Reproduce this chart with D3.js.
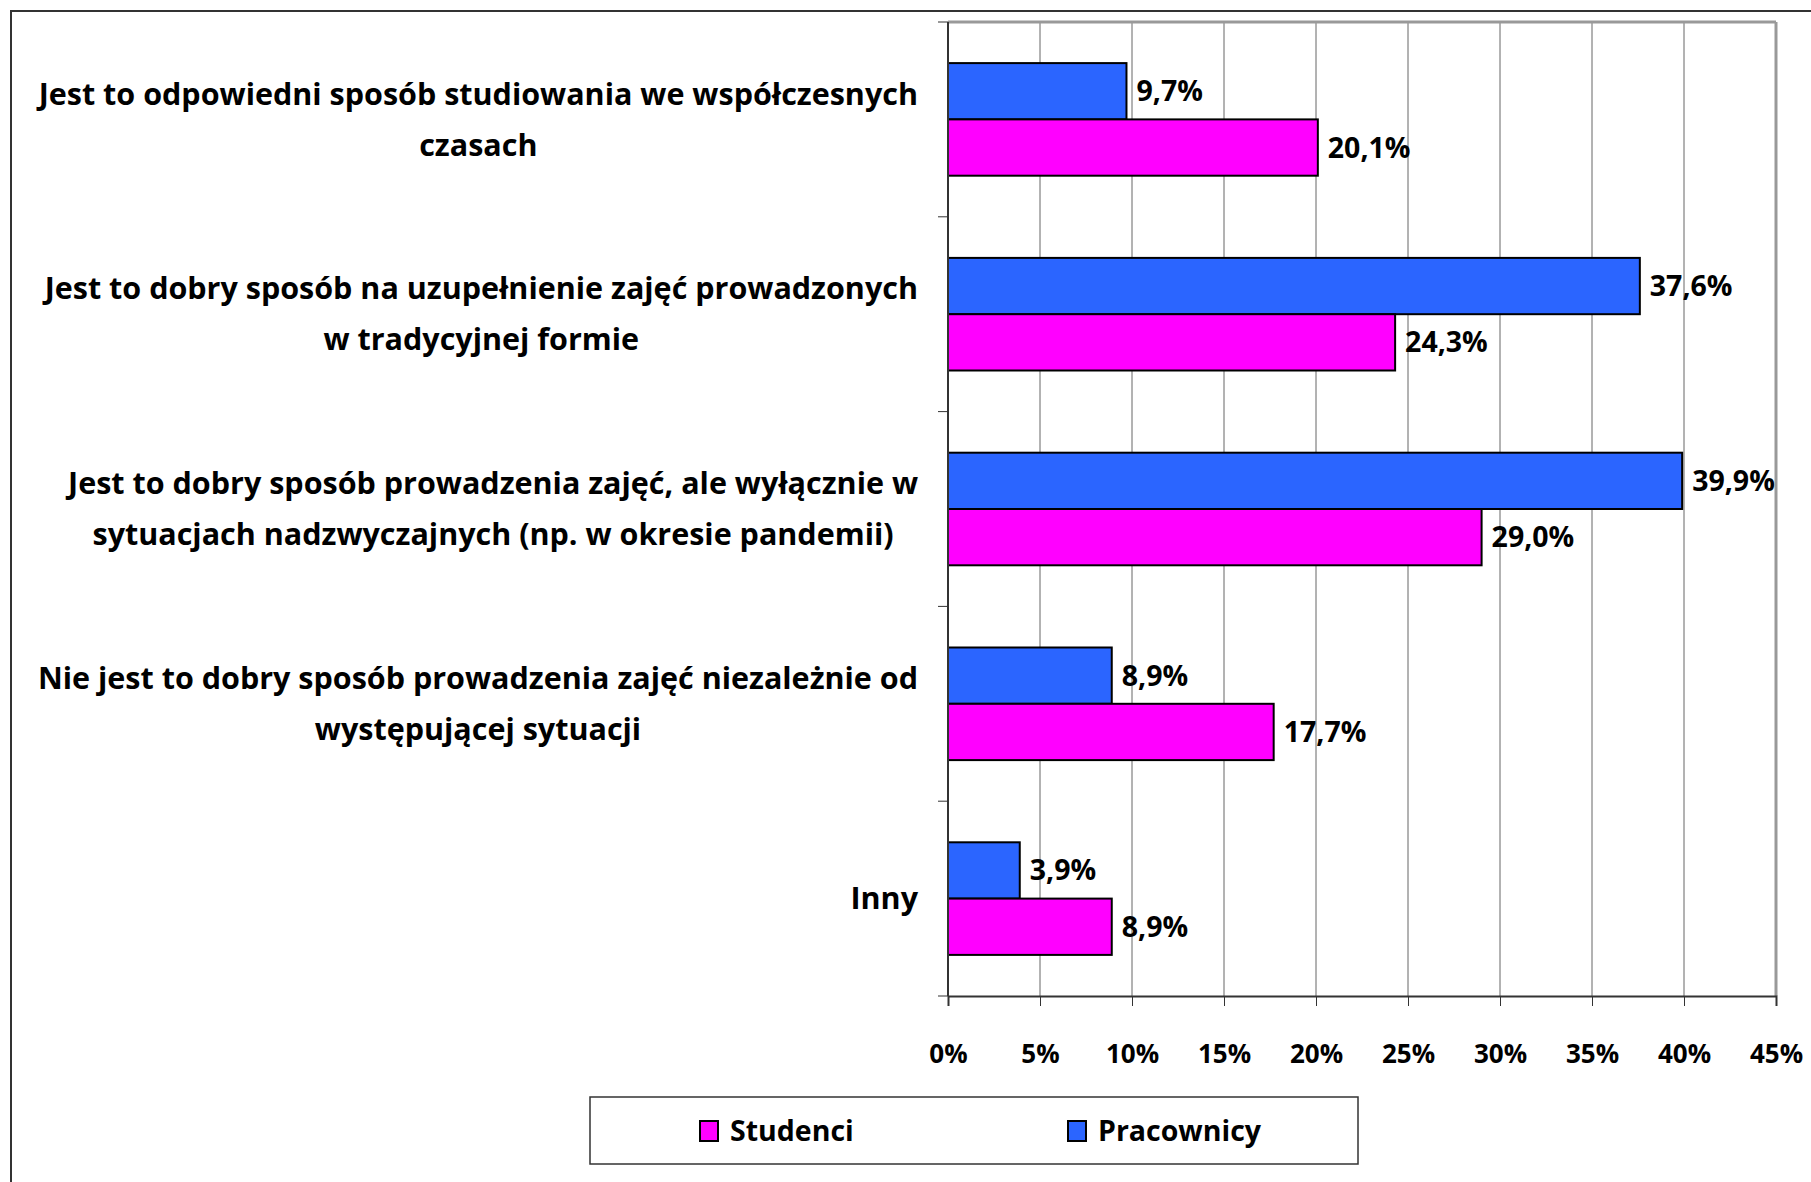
<!DOCTYPE html>
<html>
<head>
<meta charset="utf-8">
<script src="https://cdn.jsdelivr.net/npm/d3@7"></script>
<style>
  body { margin: 0; background: #fff; }
  text { font-family: "Open Sans", Lato, sans-serif; font-weight: bold; fill: #000; }
</style>
</head>
<body>
<div class="canvas"></div>
<script>
// category labels, already split into lines like the original
const categories = [
  ['Jest to odpowiedni sposób studiowania we współczesnych', 'czasach'],
  ['Jest to dobry sposób na uzupełnienie zajęć prowadzonych', 'w tradycyjnej formie'],
  ['Jest to dobry sposób prowadzenia zajęć, ale wyłącznie w', 'sytuacjach nadzwyczajnych (np. w okresie pandemii)'],
  ['Nie jest to dobry sposób prowadzenia zajęć niezależnie od', 'występującej sytuacji'],
  ['Inny']
];
const seriesNames = ['Pracownicy', 'Studenci'];
const pracownicy = [9.7, 37.6, 39.9, 8.9, 3.9];
const studenci = [20.1, 24.3, 29.0, 17.7, 8.9];
const xTicks = [0, 5, 10, 15, 20, 25, 30, 35, 40, 45];

const colors = { Pracownicy: '#2b65ff', Studenci: '#ff00ff' };

const W = 1811, H = 1182;
const plot = { left: 948, right: 1776, top: 22, bottom: 996 };

const svg = d3.select('.canvas').append('svg')
    .attr('width', W)
    .attr('height', H);

// outer frame
svg.append('rect')
    .attr('x', 11).attr('y', 11)
    .attr('width', W).attr('height', H)
    .attr('fill', 'none')
    .attr('stroke', '#333')
    .attr('stroke-width', 2);

const x = d3.scaleLinear().domain([0, 45]).range([plot.left, plot.right]);
const y = d3.scaleBand().domain(d3.range(categories.length)).range([plot.top, plot.bottom]);
const inner = d3.scaleBand().domain(seriesNames).range([0, y.bandwidth()]).paddingInner(0).paddingOuter(0.73);

// grid lines
svg.append('g').selectAll('line')
    .data(xTicks.slice(1))
    .join('line')
    .attr('x1', d => x(d)).attr('x2', d => x(d))
    .attr('y1', plot.top).attr('y2', plot.bottom)
    .attr('stroke', d => d === 45 ? '#999' : '#666')
    .attr('stroke-width', d => d === 45 ? 3 : 1);

// top border of plot area
svg.append('line')
    .attr('x1', plot.left).attr('x2', plot.right)
    .attr('y1', plot.top).attr('y2', plot.top)
    .attr('stroke', '#999').attr('stroke-width', 3);

// bars
const rows = categories.map((c, i) => ({ i, Pracownicy: pracownicy[i], Studenci: studenci[i] }));
const groups = svg.append('g').selectAll('g')
    .data(rows)
    .join('g')
    .attr('transform', d => `translate(0, ${y(d.i)})`);

groups.selectAll('rect')
    .data(d => seriesNames.map(s => ({ s, v: d[s] })))
    .join('rect')
    .attr('x', x(0))
    .attr('y', d => inner(d.s))
    .attr('width', d => x(d.v) - x(0))
    .attr('height', inner.bandwidth())
    .attr('fill', d => colors[d.s])
    .attr('stroke', '#000')
    .attr('stroke-width', 2);

groups.selectAll('text')
    .data(d => seriesNames.map(s => ({ s, v: d[s] })))
    .join('text')
    .attr('x', d => x(d.v) + 10)
    .attr('y', d => inner(d.s) + inner.bandwidth() / 2)
    .attr('dy', '0.35em')
    .style('font-size', '28.5px')
    .text(d => d.v.toFixed(1).replace('.', ',') + '%');

// x axis
const xAxis = svg.append('g')
    .attr('transform', `translate(0, ${plot.bottom})`)
    .call(d3.axisBottom(x).tickValues(xTicks).tickSize(10).tickPadding(39).tickFormat(d => d + '%'));
xAxis.select('.domain').attr('stroke', '#333').attr('stroke-width', 2);
xAxis.selectAll('.tick line').attr('stroke', '#333');
xAxis.selectAll('.tick text')
    .style('font-family', '"Open Sans", Lato, sans-serif')
    .style('font-weight', 'bold')
    .style('font-size', '26px');

// y axis (ticks at band boundaries)
svg.append('line')
    .attr('x1', plot.left).attr('x2', plot.left)
    .attr('y1', plot.top).attr('y2', plot.bottom)
    .attr('stroke', '#333').attr('stroke-width', 2);
svg.append('g').selectAll('line')
    .data(d3.range(categories.length + 1))
    .join('line')
    .attr('x1', plot.left - 10).attr('x2', plot.left)
    .attr('y1', d => plot.top + d * y.step())
    .attr('y2', d => plot.top + d * y.step())
    .attr('stroke', '#333');

// category labels: block right aligned, lines centred inside it
const labelRight = 918, lineGap = 51;
categories.forEach((lines, i) => {
  const g = svg.append('g');
  const cy = y(i) + y.bandwidth() / 2;
  const texts = lines.map((t, k) => g.append('text')
      .attr('y', cy + (k - (lines.length - 1) / 2) * lineGap)
      .attr('dy', '0.35em')
      .attr('text-anchor', 'middle')
      .style('font-size', '30.5px')
      .text(t));
  const maxW = d3.max(texts, t => t.node().getComputedTextLength());
  texts.forEach(t => t.attr('x', labelRight - maxW / 2));
});

// legend
const legend = svg.append('g');
legend.append('rect')
    .attr('x', 590).attr('y', 1097)
    .attr('width', 768).attr('height', 67)
    .attr('fill', '#fff').attr('stroke', '#333').attr('stroke-width', 1.5);
const legendItems = [{ s: 'Studenci', x: 700 }, { s: 'Pracownicy', x: 1068 }];
legendItems.forEach(d => {
  legend.append('rect')
      .attr('x', d.x).attr('y', 1121)
      .attr('width', 18).attr('height', 20)
      .attr('fill', colors[d.s]).attr('stroke', '#000').attr('stroke-width', 2);
  legend.append('text')
      .attr('x', d.x + 30).attr('y', 1131)
      .attr('dy', '0.35em')
      .style('font-size', '28.5px')
      .text(d.s);
});
</script>
</body>
</html>
